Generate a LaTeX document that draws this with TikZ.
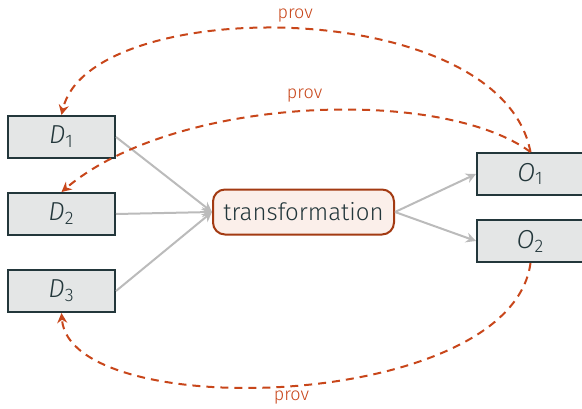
\documentclass[tikz,border=0pt]{standalone}
\usepackage{fontspec}
\IfFontExistsTF{Fira Sans Book}{\setmainfont{Fira Sans Book}}{\setmainfont{Fira Sans Light}}
\usetikzlibrary{positioning,arrows.meta}

\definecolor{darkteal}{HTML}{23373B}
\definecolor{boxgray}{HTML}{E4E6E6}
\definecolor{provorange}{HTML}{C8461A}
\definecolor{transborder}{HTML}{A33A12}
\definecolor{transfill}{HTML}{FBEFEA}
\definecolor{flowgray}{HTML}{BBBBBB}

\begin{document}
\begin{tikzpicture}[
      x=0.5pt, y=0.5pt,
      node distance=16.5pt,
      dataset/.style={rectangle, draw=darkteal, line width=1pt, fill=boxgray,
                      minimum width=53.5pt, minimum height=21pt, inner sep=0pt,
                      text=darkteal, font=\fontsize{13}{15}\selectfont},
      process/.style={rectangle, rounded corners=6pt, draw=transborder, line width=1pt,
                      fill=transfill, minimum width=90.5pt, minimum height=22.5pt,
                      text=darkteal, font=\fontsize{12}{14}\selectfont},
      flow/.style={-{Stealth[length=5pt,width=5pt]}, draw=flowgray, line width=1pt},
      prov/.style={-{Stealth[length=5pt,width=5pt]}, draw=provorange, line width=1pt,
                   dash pattern=on 4pt off 3pt},
      provlabel/.style={text=provorange, inner sep=1pt, font=\fontsize{9}{11}\selectfont}
    ]
    \useasboundingbox (0,0) rectangle (582,408);

    \node[dataset] (d1) at (61.5,271) {\textit{D}\textsubscript{1}};
    \node[dataset, below=of d1] (d2) {\textit{D}\textsubscript{2}};
    \node[dataset, below=of d2] (d3) {\textit{D}\textsubscript{3}};
    \node[process] (trans) at (303.5,196) {transformation};
    \node[dataset] (o1) at (530.5,234) {\textit{O}\textsubscript{1}};
    \node[dataset, below=of o1, yshift=5pt] (o2) {\textit{O}\textsubscript{2}};

    \draw[flow] (d1.east) -- (trans.west);
    \draw[flow] (d2.east) -- (trans.west);
    \draw[flow] (d3.east) -- (trans.west);
    \draw[flow] (trans.east) -- (o1.west);
    \draw[flow] (trans.east) -- (o2.west);

    % provenance links back to the inputs
    \draw[prov] (o1.north) .. controls +(-30,158) and +(28,121) .. node[provlabel, above=2pt]{prov} (d1.north);
    \draw[prov] (o1.north) .. controls +(-90,66) and +(113,96) .. node[provlabel, above=3pt]{prov} (d2.north);
    \draw[prov] (o2.south) .. controls +(-20,-149) and +(8,-111) .. node[provlabel, below=1pt]{prov} (d3.south);
  \end{tikzpicture}
\end{document}
